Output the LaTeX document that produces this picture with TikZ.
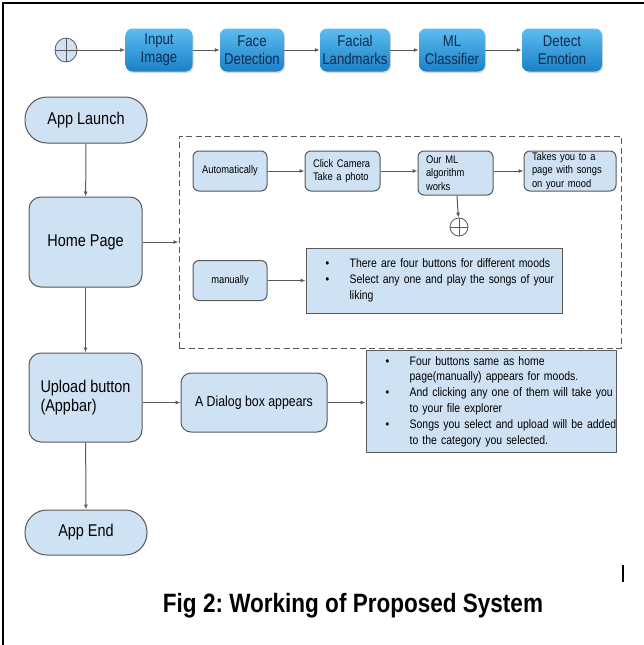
\documentclass[tikz,border=0pt]{standalone}
\usepackage{fontspec}
\setmainfont{Liberation Sans}[FakeStretch=0.85]
\usetikzlibrary{arrows.meta,shapes.geometric,shadows}
\frenchspacing

\definecolor{boxfill}{HTML}{CFE2F3}
\definecolor{boxline}{HTML}{595959}
\definecolor{pipetop}{HTML}{5CBDF0}
\definecolor{pipebot}{HTML}{1B80C8}
\definecolor{pipetext}{HTML}{0E2C4C}

\tikzset{
    arr/.style={draw=boxline, line width=1pt, -{Latex[length=5pt,width=4pt]}},
    pipe/.style={rounded corners=7pt, minimum width=#1, minimum height=43pt, inner sep=0pt,
        top color=pipetop, bottom color=pipebot, text=pipetext, align=center,
        font=\fontsize{15.5}{18.5}\selectfont,
        drop shadow={opacity=0.3, shadow xshift=1pt, shadow yshift=-1.5pt}},
    bigbox/.style={draw=boxline, line width=1pt, fill=boxfill, rounded corners=12pt,
        minimum width=113pt, minimum height=#1, font=\fontsize{17}{19}\selectfont},
    term/.style={draw=boxline, line width=1pt, fill=boxfill, rounded corners=22pt,
        minimum width=122pt, minimum height=#1, font=\fontsize{17}{19}\selectfont},
    smallbox/.style={draw=boxline, line width=1pt, fill=boxfill, rounded corners=6pt,
        minimum height=40pt, inner sep=0pt, font=\fontsize{11}{13.5}\selectfont},
    leftbox/.style={smallbox, text width=#1, inner xsep=8pt, align=left},
    listbox/.style={draw=boxline, line width=1pt, fill=boxfill, inner xsep=0pt,
        text width=#1, align=left, font=\fontsize{12.3}{15.8}\selectfont},
    xsum/.style={draw=boxline, line width=0.8pt, inner sep=0pt,
        path picture={\draw[boxline, line width=0.8pt]
            (path picture bounding box.north) -- (path picture bounding box.south)
            (path picture bounding box.west) -- (path picture bounding box.east);}}
}

\begin{document}
\begin{tikzpicture}[x=1pt, y=-1pt]
        \useasboundingbox (0,0) rectangle (644,645);
        \draw[line width=2.5pt] (3,645) -- (3,3) -- (644,3);

        \node[xsum, ellipse, fill=boxfill, minimum width=22pt, minimum height=24pt] (start) at (66, 50) {};
        \node[pipe=67pt] (input) at (159, 50) {Input\\Image};
        \node[pipe=64pt] (facedet) at (252, 50) {Face\\Detection};
        \node[pipe=70pt] (landmarks) at (355, 50) {Facial\\Landmarks};
        \node[pipe=66pt] (classifier) at (452, 50) {ML\\Classifier};
        \node[pipe=80pt] (emotion) at (562, 50) {Detect\\Emotion};

        \node[term=46pt] (launch) at (86, 120) {App Launch};
        \node[bigbox=90pt] (home) at (85.5, 242) {Home Page};
        \node[bigbox=89pt, align=left] (upload) at (85.5, 397.5) {Upload button\\(Appbar)};
        \node[term=45pt] (appstop) at (86, 532.5) {App End};

        \node[draw=boxline, line width=1pt, dash pattern=on 6pt off 3.5pt,
            minimum width=442pt, minimum height=212pt] (group) at (400, 242) {};
        \node[smallbox, minimum width=74pt] (auto) at (230, 171) {Automatically};
        \node[leftbox=59pt] (camera) at (342.5, 171) {Click Camera\\Take a photo};
        \node[leftbox=59pt, minimum height=44pt] (mlalgo) at (455.5, 173) {Our ML\\algorithm\\works};
        \node[leftbox=76pt] (songpage) at (570, 171) {Takes you to a\\page with songs\\on your mood};
        \node[xsum, circle, fill=white, minimum size=18pt] (stop) at (459, 227) {};
        \node[smallbox, minimum width=74pt] (manual) at (230, 280.5) {manually};
        \node[listbox=256pt, minimum height=65pt] (moodlist) at (434, 280.5) {%
            \begin{tabular}{@{\hspace{19.5pt}}l@{\hspace{20.5pt}}l@{}}
            \textbullet & There are four buttons for different moods\\
            \textbullet & Select any one and play the songs of your\\
             & liking
            \end{tabular}};

        \node[draw=boxline, line width=1pt, fill=boxfill, rounded corners=10pt,
            minimum width=146pt, minimum height=59pt, font=\fontsize{14.5}{17}\selectfont] (dialog) at (254, 402.5) {A Dialog box appears};
        \node[listbox=250pt, minimum height=97pt] (uplist) at (491, 401.5) {%
            \begin{tabular}{@{\hspace{19.5pt}}l@{\hspace{20.5pt}}l@{}}
            \textbullet & Four buttons same as home\\
             & page(manually) appears for moods.\\
            \textbullet & And clicking any one of them will take you\\
             & to your file explorer\\
            \textbullet & Songs you select and upload will be added\\
             & to the category you selected.
            \end{tabular}};

        \node[font=\fontsize{26.5}{30}\selectfont\bfseries] (caption) at (353, 606) {Fig 2: Working of Proposed System};

        \draw[arr] (start) -- (input);
        \draw[arr] (input) -- (facedet);
        \draw[arr] (facedet) -- (landmarks);
        \draw[arr] (landmarks) -- (classifier);
        \draw[arr] (classifier) -- (emotion);

        \draw[arr] (launch) -- (home);
        \draw[arr] (home) -- (upload);
        \draw[arr] (upload) -- (appstop);
        \draw[arr] (home) -- (group);
        \draw[arr] (auto) -- (camera);
        \draw[arr] (camera.east) -- (camera.east -| mlalgo.west);
        \draw[arr] (mlalgo.east |- songpage) -- (songpage);
        \draw[arr] (mlalgo) -- (stop);
        \draw[arr] (manual) -- (moodlist);
        \draw[arr] (upload.east |- dialog) -- (dialog);
        \draw[arr] (dialog) -- (dialog -| uplist.west);

        \draw[line width=1.2pt] (623, 565) -- (623, 582);

    \end{tikzpicture}
\end{document}
